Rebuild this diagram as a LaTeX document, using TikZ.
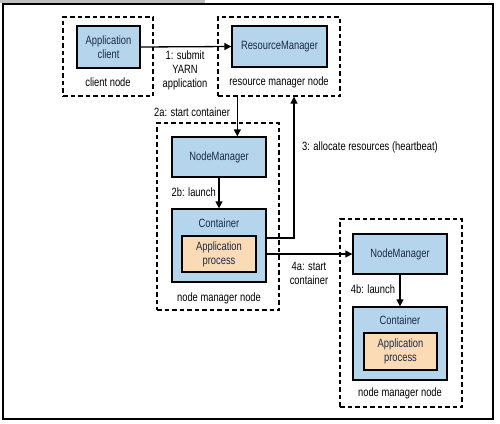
\documentclass[tikz,border=0pt]{standalone}
\usepackage{fontspec}
\setmainfont[FakeStretch=0.78]{Liberation Sans}
\usetikzlibrary{arrows.meta,shadows}
\definecolor{boxblue}{HTML}{B4D5EC}
\definecolor{boxorange}{HTML}{FADBB5}
\definecolor{boxtext}{HTML}{1C2A44}
\tikzset{
  lbl/.style={font=\fontsize{12}{14}\selectfont, align=center, inner sep=0pt},
  daemon/.style={draw, line width=1.3pt, fill=boxblue, lbl, text=boxtext,
    drop shadow={opacity=0.35, shadow xshift=1.2pt, shadow yshift=-1.2pt}},
  proc/.style={draw, line width=1.3pt, fill=boxorange, lbl, text=boxtext},
  machine/.style={draw, line width=1.3pt, dash pattern=on 4.5pt off 3pt, inner sep=0pt},
  flow/.style={line width=1.3pt, -{Triangle[length=7pt,width=7pt]}}
}
\begin{document}
\begin{tikzpicture}[x=1pt,y=-1pt]
\useasboundingbox (0,0) rectangle (500,423);
\fill[black!25] (0,0) rectangle (205,3);
\draw[line width=1.2pt] (3,4) rectangle (493,419);

\node[machine, minimum width=90pt, minimum height=79pt] (clientnode) at (108,56.5) {};
\node[machine, minimum width=122pt, minimum height=79pt] (rmnode) at (279,56.5) {};
\node[machine, minimum width=122pt, minimum height=187pt] (nmnodeA) at (218,216.5) {};
\node[machine, minimum width=122pt, minimum height=188pt] (nmnodeB) at (401,313) {};

\node[daemon, minimum width=63pt, minimum height=42pt] (client) at (108.5,47) {Application\\client};
\node[daemon, minimum width=95pt, minimum height=41pt] (rm) at (279.5,46.5) {ResourceManager};
\node[daemon, minimum width=94pt, minimum height=40pt] (nmA) at (219,157) {NodeManager};
\node[daemon, minimum width=94pt, minimum height=73pt] (contA) at (219,245.5) {};
\node[lbl, text=boxtext] at (219,223) {Container};
\node[proc, minimum width=74pt, minimum height=36pt] (appA) at (219,254) {Application\\process};
\node[daemon, minimum width=94pt, minimum height=40pt] (nmB) at (400,254) {NodeManager};
\node[daemon, minimum width=94pt, minimum height=73pt] (contB) at (400,343.5) {};
\node[lbl, text=boxtext] at (400,320) {Container};
\node[proc, minimum width=73pt, minimum height=37pt] (appB) at (400.5,351.5) {Application\\process};

\node[lbl] at (108,82) {client node};
\node[lbl] at (279,82) {resource manager node};
\node[lbl] at (219,298) {node manager node};
\node[lbl] at (400,393) {node manager node};

\draw[flow] (client.east) -- (rm.west);
\node[lbl] at (185,70) {1: submit\\YARN\\application};
\draw[flow] ([xshift=20pt]rmnode.south west) -- ([xshift=20pt]rmnode.south west |- nmA.north);
\node[lbl] at (192,112) {2a: start container};
\draw[flow] (nmA.south) -- (contA.north);
\node[lbl, anchor=east] at (216,192) {2b: launch};
\draw[flow] ([yshift=7.5pt]contA.east) -| ([xshift=15pt]rmnode.south);
\node[lbl, anchor=west] at (302,147) {3: allocate resources (heartbeat)};
\draw[flow] (contA.east |- nmB.west) -- (nmB.west);
\node[lbl] at (309,273) {4a: start\\container};
\draw[flow] (nmB.south) -- (contB.north);
\node[lbl] at (373,289) {4b: launch};
\end{tikzpicture}
\end{document}
